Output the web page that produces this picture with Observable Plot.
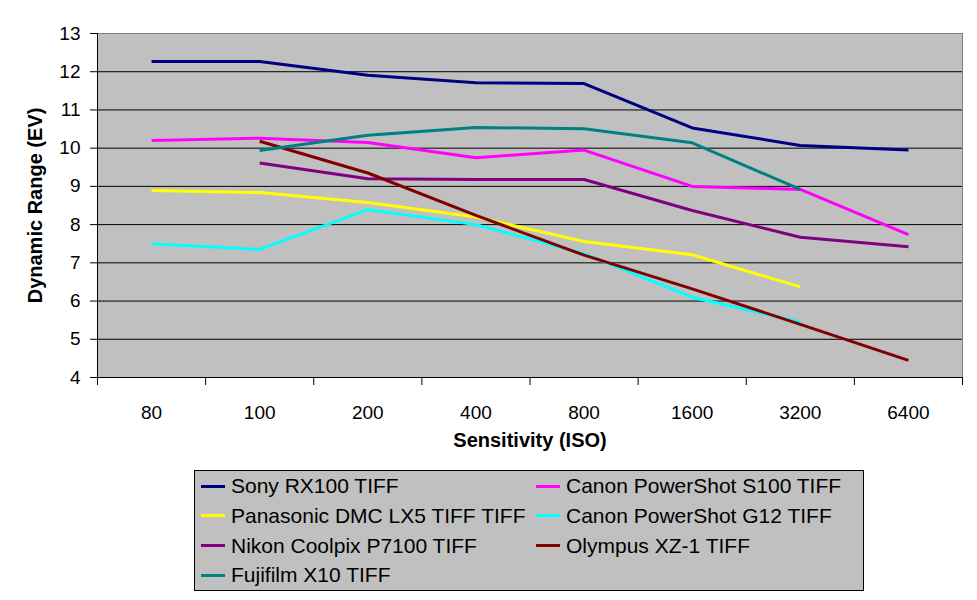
<!DOCTYPE html>
<html>
<head>
<meta charset="utf-8">
<script src="https://cdn.jsdelivr.net/npm/d3@7"></script>
<script src="https://cdn.jsdelivr.net/npm/@observablehq/plot@0.6"></script>
<style>
  html, body { margin: 0; padding: 0; background: #fff; }
  body { width: 977px; height: 600px; position: relative; overflow: hidden; font-family: "Liberation Sans", Arial, sans-serif; }
  #chart { position: absolute; left: 0; top: 0; }
  #legend { position: absolute; left: 194px; top: 470px; width: 670px; height: 121px; background: #c0c0c0; border: 1px solid #000; box-sizing: border-box; }
  .item { position: absolute; height: 30px; display: flex; align-items: center; font-size: 21px; color: #000; white-space: nowrap; }
  .swatch { width: 24px; height: 3px; margin-right: 6px; }
</style>
</head>
<body>
<div id="chart"></div>
<div id="legend"></div>
<script>
const isoLabels = ["80", "100", "200", "400", "800", "1600", "3200", "6400"];
const seriesNames = [
  "Sony RX100 TIFF",
  "Canon PowerShot S100 TIFF",
  "Panasonic DMC LX5 TIFF TIFF",
  "Canon PowerShot G12 TIFF",
  "Nikon Coolpix P7100 TIFF",
  "Olympus XZ-1 TIFF",
  "Fujifilm X10 TIFF"
];
const seriesColors = ["#000080", "#ff00ff", "#ffff00", "#00ffff", "#800080", "#800000", "#008080"];
const sony      = [12.27, 12.27, 11.91, 11.71, 11.69, 10.53, 10.07, 9.95];
const canonS100 = [10.20, 10.26, 10.15, 9.75, 9.95, 9.00, 8.92, 7.74];
const panasonic = [8.89, 8.84, 8.58, 8.20, 7.56, 7.21, 6.37, null];
const canonG12  = [7.50, 7.35, 8.39, 8.00, 7.24, 6.10, 5.45, null];
const nikon     = [null, 9.61, 9.20, 9.18, 9.18, 8.37, 7.67, 7.42];
const olympus   = [null, 10.18, 9.35, 8.24, 7.20, 6.32, 5.39, 4.45];
const fujifilm  = [null, 9.94, 10.34, 10.54, 10.51, 10.14, 8.92, null];
const yTicks = [4, 5, 6, 7, 8, 9, 10, 11, 12, 13];

const seriesValues = [sony, canonS100, panasonic, canonG12, nikon, olympus, fujifilm];
const rows = [];
seriesValues.forEach((vals, s) => {
  vals.forEach((v, i) => {
    if (v != null) rows.push({series: seriesNames[s], i, iso: isoLabels[i], value: v});
  });
});
const idx = isoLabels.map((d, i) => i);
const bounds = isoLabels.map((d, i) => i - 0.5).concat([isoLabels.length - 0.5]);

const font = "Liberation Sans, Arial, sans-serif";
const chart = Plot.plot({
  width: 977,
  height: 460,
  marginLeft: 97,
  marginRight: 15,
  marginTop: 33,
  marginBottom: 83,
  style: {fontFamily: font, fontSize: "19px", color: "#000", background: "transparent"},
  x: {type: "linear", domain: [-0.5, isoLabels.length - 0.5], axis: null},
  y: {domain: [4, 13], axis: null},
  color: {domain: seriesNames, range: seriesColors},
  marks: [
    Plot.frame({fill: "#c0c0c0", stroke: "none"}),
    Plot.ruleY(yTicks.filter(t => t > 4 && t < 13), {stroke: "#000", strokeWidth: 1}),
    Plot.ruleY([13], {stroke: "#808080", strokeWidth: 1}),
    Plot.ruleX([isoLabels.length - 0.5], {stroke: "#808080", strokeWidth: 1}),
    Plot.line(rows, {x: "i", y: "value", z: "series", stroke: "series", strokeWidth: 3, strokeLinejoin: "round", strokeLinecap: "butt"}),
    Plot.ruleX([-0.5], {stroke: "#000", strokeWidth: 1}),
    Plot.ruleY([4], {stroke: "#000", strokeWidth: 1}),
    Plot.axisY({ticks: yTicks, tickSize: 7, tickPadding: 10, label: null, fontSize: 19}),
    Plot.axisX({ticks: bounds, tickSize: 8, tickFormat: () => "", label: null}),
    Plot.axisX({ticks: idx, tickSize: 0, tickPadding: 28, tickFormat: i => isoLabels[i], label: null, fontSize: 19}),
    Plot.text(["Dynamic Range (EV)"], {text: d => d, frameAnchor: "left", dx: -62, rotate: -90, textAnchor: "middle", fontWeight: "bold", fontSize: 20}),
    Plot.text(["Sensitivity (ISO)"], {text: d => d, frameAnchor: "bottom", dy: 63, lineAnchor: "middle", fontWeight: "bold", fontSize: 20})
  ]
});
document.getElementById("chart").appendChild(chart);

const legend = document.getElementById("legend");
seriesNames.forEach((name, k) => {
  const col = k % 2, row = Math.floor(k / 2);
  const item = document.createElement("div");
  item.className = "item";
  item.style.left = (col === 0 ? 6 : 341) + "px";
  item.style.top = (row * 29.8) + "px";
  const sw = document.createElement("span");
  sw.className = "swatch";
  sw.style.background = seriesColors[k];
  const tx = document.createElement("span");
  tx.textContent = name;
  item.appendChild(sw);
  item.appendChild(tx);
  legend.appendChild(item);
});
</script>
</body>
</html>
